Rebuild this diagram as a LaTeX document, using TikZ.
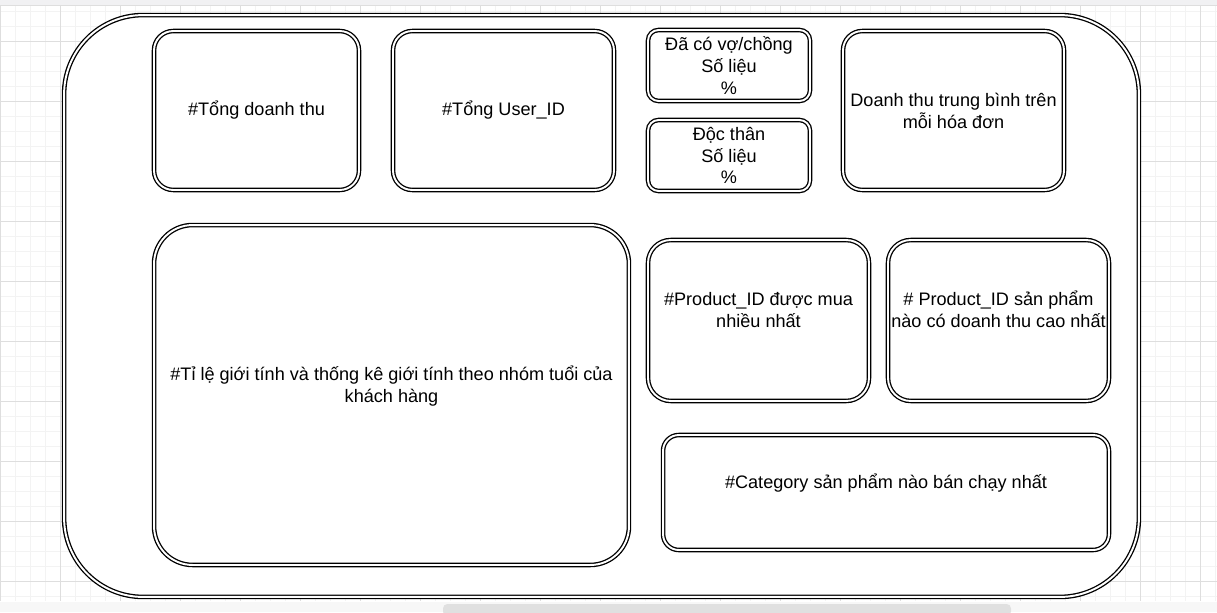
\documentclass[tikz,border=0pt]{standalone}
\usepackage{fontspec}
\setmainfont{Liberation Sans}

\definecolor{gridminor}{HTML}{F3F3F3}
\definecolor{gridmajor}{HTML}{DEDEDE}
\definecolor{barbg}{HTML}{F1F1F3}
\definecolor{thumb}{HTML}{E0E0E0}

\tikzset{
  dbox/.style={draw, double, double distance=1.1pt, line width=0.75pt, fill=white,
    align=center, inner sep=0pt, font=\fontsize{10.3pt}{12.5pt}\selectfont}
}

\begin{document}
\begin{tikzpicture}[x=0.02cm, y=-0.02cm]
\useasboundingbox (0,0) rectangle (1217,612);
% background grid
\fill[barbg] (0,0) rectangle (1217,5.5);
\draw[gridmajor] (0,5.5) -- (1217,5.5);
\foreach \x in {0,15,...,1215} \draw[gridminor] (\x,6) -- (\x,601);
\foreach \y in {11.7,26.7,...,600} \draw[gridminor] (0,\y) -- (1217,\y);
\foreach \x in {0,60,...,1215} \draw[gridmajor] (\x,6) -- (\x,601);
\foreach \y in {41.7,101.7,...,600} \draw[gridmajor] (0,\y) -- (1217,\y);
\fill[white!97!black] (0,602) rectangle (1217,612);
\fill[thumb, rounded corners=2.5pt] (443,604) rectangle (1011,616);

% outer frame
\node[dbox, minimum width=21.5cm, minimum height=11.64cm, rounded corners=45pt] (frame) at (601.5,306) {};

% top row
\node[dbox, minimum width=4.1cm, minimum height=3.18cm, rounded corners=11pt] (doanhthu) at (256.5,110.5) {\#Tổng doanh thu};
\node[dbox, minimum width=4.42cm, minimum height=3.18cm, rounded corners=11pt] (userid) at (503.5,110.5) {\#Tổng User\_ID};
\node[dbox, minimum width=3.24cm, minimum height=1.42cm, rounded corners=6pt] (kethon) at (729,65.5) {Đã có vợ/chồng\\Số liệu\\\%};
\node[dbox, minimum width=3.24cm, minimum height=1.42cm, rounded corners=6pt] (docthan) at (729,155.5) {Độc thân\\Số liệu\\\%};
\node[dbox, minimum width=4.42cm, minimum height=3.18cm, rounded corners=11pt] (trungbinh) at (953.5,110.5) {Doanh thu trung bình trên\\mỗi hóa đơn};

% lower part
\node[dbox, minimum width=9.5cm, minimum height=6.8cm, rounded corners=22pt] (gioitinh) at (391.5,395) {\#Tỉ lệ giới tính và thống kê giới tính theo nhóm tuổi của\\khách hàng\\\mbox{}};
\node[dbox, minimum width=4.42cm, minimum height=3.22cm, rounded corners=13pt] (muanhieu) at (758.5,320.5) {\#Product\_ID được mua\\nhiều nhất\\\mbox{}};
\node[dbox, minimum width=4.42cm, minimum height=3.22cm, rounded corners=13pt] (doanhthucao) at (998.5,320.5) {\# Product\_ID sản phẩm\\nào có doanh thu cao nhất\\\mbox{}};
\node[dbox, minimum width=8.92cm, minimum height=2.3cm, rounded corners=9pt] (category) at (886,492.5) {\#Category sản phẩm nào bán chạy nhất\\\mbox{}};
\end{tikzpicture}
\end{document}
